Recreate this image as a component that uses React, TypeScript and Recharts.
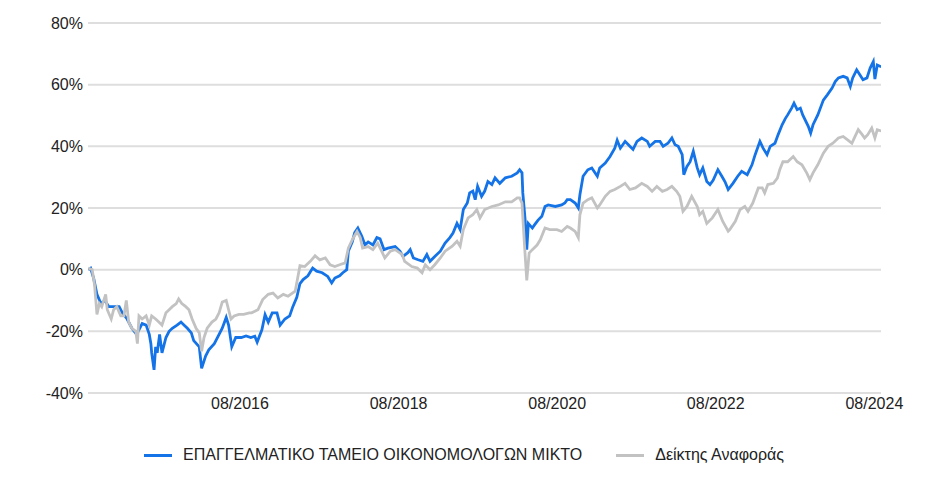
import { CartesianGrid, Line, LineChart, XAxis, YAxis } from "recharts";

// Colours and type.
const FUND_COLOR = "#1473e6";
const BENCH_COLOR = "#c2c2c2";
const GRID = "#dedede";
const TEXT = "#222222";
const FONT = "'Liberation Sans', Arial, sans-serif";

const FUND_NAME = "ΕΠΑΓΓΕΛΜΑΤΙΚΟ ΤΑΜΕΙΟ ΟΙΚΟΝΟΜΟΛΟΓΩΝ ΜΙΚΤΟ";
const BENCH_NAME = "Δείκτης Αναφοράς";

// Time as decimal year, cumulative return in %.
const fundTimes = [
  2014.67, 2014.7, 2014.74, 2014.78, 2014.83, 2014.88, 2014.93, 2014.99, 2015.06, 2015.1,
  2015.16, 2015.22, 2015.28, 2015.35, 2015.4, 2015.44, 2015.46, 2015.47, 2015.5, 2015.52,
  2015.54, 2015.57, 2015.6, 2015.65, 2015.69, 2015.73, 2015.79, 2015.84, 2015.88, 2015.92,
  2015.97, 2016.0, 2016.07, 2016.1, 2016.15, 2016.19, 2016.26, 2016.32, 2016.36, 2016.41,
  2016.44, 2016.48, 2016.53, 2016.6, 2016.66, 2016.72, 2016.77, 2016.8, 2016.86, 2016.9,
  2016.94, 2016.99, 2017.05, 2017.09, 2017.15, 2017.21, 2017.25, 2017.3, 2017.34, 2017.38,
  2017.44, 2017.5, 2017.55, 2017.62, 2017.69, 2017.74, 2017.78, 2017.84, 2017.88, 2017.93,
  2017.95, 2018.0, 2018.03, 2018.07, 2018.12, 2018.16, 2018.2, 2018.26, 2018.31, 2018.35,
  2018.4, 2018.45, 2018.54, 2018.6, 2018.64, 2018.7, 2018.73, 2018.77, 2018.83, 2018.89,
  2018.94, 2018.98, 2019.04, 2019.11, 2019.17, 2019.23, 2019.27, 2019.32, 2019.36, 2019.4,
  2019.45, 2019.48, 2019.52, 2019.55, 2019.58, 2019.63, 2019.67, 2019.71, 2019.76, 2019.8,
  2019.86, 2019.93, 2020.01, 2020.08, 2020.11, 2020.14, 2020.15, 2020.18, 2020.2, 2020.22,
  2020.27, 2020.3, 2020.34, 2020.39, 2020.43, 2020.47, 2020.56, 2020.64, 2020.68, 2020.71,
  2020.75, 2020.81, 2020.85, 2020.87, 2020.91, 2020.97, 2021.02, 2021.09, 2021.12, 2021.19,
  2021.25, 2021.31, 2021.34, 2021.38, 2021.44, 2021.5, 2021.54, 2021.59, 2021.65, 2021.72,
  2021.75, 2021.82, 2021.88, 2021.92, 2021.98, 2022.03, 2022.07, 2022.11, 2022.16, 2022.18,
  2022.22, 2022.26, 2022.3, 2022.35, 2022.38, 2022.42, 2022.47, 2022.51, 2022.55, 2022.61,
  2022.66, 2022.7, 2022.74, 2022.8, 2022.86, 2022.91, 2022.98, 2023.04, 2023.08, 2023.14,
  2023.18, 2023.23, 2023.27, 2023.33, 2023.37, 2023.42, 2023.46, 2023.49, 2023.54, 2023.57,
  2023.61, 2023.65, 2023.68, 2023.75, 2023.78, 2023.81, 2023.87, 2023.94, 2023.99, 2024.05,
  2024.09, 2024.13, 2024.19, 2024.24, 2024.28, 2024.31, 2024.36, 2024.4, 2024.44, 2024.49,
  2024.53, 2024.57, 2024.59, 2024.62, 2024.67,
];
const fundValues = [
  0, 0.5, -3, -8, -11, -10, -12, -12, -12, -14,
  -16, -19, -21, -17.5, -18, -21, -24, -27, -32.5, -25,
  -27, -21, -27, -22, -20, -19, -18, -17, -18, -19,
  -20.5, -23, -25, -32, -28, -26, -24, -21, -19, -15.5,
  -18, -25, -22, -22, -21.5, -22, -21.6, -23.5, -19.5, -14.6,
  -17, -14, -14, -18, -16, -15, -12, -9, -4.5, -3.2,
  -2, 0.5, -0.5, -1, -2.2, -4.3, -2.7, -2, -1, 0,
  6, 9, 12, 13.5, 10.8, 8, 9, 8, 10.4, 10,
  6.5, 7, 7.5, 6, 4.3, 5.5, 6.5, 3.8, 3.2, 2.7,
  4.9, 2.7, 4.3, 6, 8.6, 10.4, 11.9, 15, 13, 19.5,
  21.6, 24.9, 25.5, 22.7, 27, 23.8, 25.5, 28.6, 27.6, 29.8,
  28, 29.8, 30.3, 31.4, 32.4, 31.4, 24.9, 16, 6.5, 15,
  13.5, 14.6, 16, 17.3, 20.5, 21, 20.5, 21, 21.6, 22.7,
  22.7, 21.6, 20, 24.3, 30.3, 32.4, 33, 30.3, 33, 34.6,
  36.7, 39.4, 42, 39.4, 41.6, 40, 39, 41.6, 42.7, 41.6,
  40, 41.6, 41.6, 40, 41, 42.7, 40.5, 40, 37.3, 30.8,
  33.5, 35, 38.4, 33, 30.8, 33, 28.6, 27.6, 29, 32.4,
  30.3, 28.5, 26, 28, 30.3, 31.9, 30.8, 34, 37.3, 41.6,
  39.4, 37.3, 40, 41, 43.8, 47, 49, 50.2, 52.4, 54,
  51.9, 52.4, 50.2, 46.5, 44.3, 47, 50.2, 55, 56.7, 58.9,
  61, 62.2, 62.7, 62.2, 59.4, 62.2, 64.8, 63.2, 61.6, 62.2,
  65.4, 67.5, 61.8, 66.4, 65.8,
];

const benchTimes = [
  2014.67, 2014.72, 2014.75, 2014.78, 2014.81, 2014.84, 2014.89, 2014.91, 2014.96, 2014.99,
  2015.03, 2015.08, 2015.12, 2015.15, 2015.18, 2015.22, 2015.27, 2015.29, 2015.31, 2015.35,
  2015.4, 2015.44, 2015.47, 2015.52, 2015.56, 2015.6, 2015.65, 2015.69, 2015.73, 2015.78,
  2015.81, 2015.85, 2015.9, 2015.94, 2015.98, 2016.03, 2016.07, 2016.1, 2016.13, 2016.17,
  2016.23, 2016.28, 2016.32, 2016.36, 2016.41, 2016.44, 2016.47, 2016.51, 2016.57, 2016.63,
  2016.7, 2016.73, 2016.81, 2016.87, 2016.94, 2017.0, 2017.06, 2017.13, 2017.19, 2017.28,
  2017.34, 2017.4, 2017.47, 2017.53, 2017.59, 2017.66, 2017.72, 2017.78, 2017.84, 2017.91,
  2017.95, 2018.0, 2018.06, 2018.1, 2018.13, 2018.2, 2018.26, 2018.32, 2018.37, 2018.41,
  2018.48, 2018.54, 2018.63, 2018.66, 2018.75, 2018.82, 2018.88, 2018.92, 2018.98, 2019.04,
  2019.11, 2019.17, 2019.26, 2019.32, 2019.36, 2019.4, 2019.46, 2019.52, 2019.57, 2019.61,
  2019.67, 2019.76, 2019.84, 2019.93, 2020.01, 2020.08, 2020.11, 2020.14, 2020.17, 2020.2,
  2020.23, 2020.27, 2020.33, 2020.37, 2020.43, 2020.49, 2020.58, 2020.64, 2020.71, 2020.75,
  2020.81, 2020.85, 2020.87, 2020.91, 2020.97, 2021.02, 2021.09, 2021.12, 2021.19, 2021.25,
  2021.31, 2021.38, 2021.44, 2021.5, 2021.57, 2021.65, 2021.72, 2021.78, 2021.84, 2021.91,
  2021.97, 2022.03, 2022.09, 2022.13, 2022.17, 2022.22, 2022.28, 2022.35, 2022.38, 2022.42,
  2022.47, 2022.54, 2022.61, 2022.67, 2022.74, 2022.76, 2022.83, 2022.89, 2022.95, 2022.99,
  2023.05, 2023.12, 2023.17, 2023.2, 2023.24, 2023.31, 2023.36, 2023.39, 2023.43, 2023.49,
  2023.56, 2023.61, 2023.67, 2023.73, 2023.77, 2023.81, 2023.87, 2023.94, 2024.0, 2024.06,
  2024.13, 2024.19, 2024.25, 2024.3, 2024.34, 2024.38, 2024.43, 2024.46, 2024.5, 2024.55,
  2024.59, 2024.62, 2024.67,
];
const benchValues = [
  0.5, 0, -5, -14.5, -11, -12, -8, -13, -16, -13,
  -12, -15, -15, -10, -17, -19, -20, -24, -15, -16,
  -15, -18, -15, -16, -17, -18, -14, -13, -12, -11,
  -9.5, -11, -12, -13, -16, -19, -20.5, -26.5, -22, -19,
  -17, -16, -14, -10.5, -10, -13, -16, -15, -14.5, -14.5,
  -14, -14, -13, -9.7, -8, -7.6, -9.2, -8, -8.6, -7,
  1.3, 1, 2.7, 4.5, 3.2, 3.8, 1.6, 1, 1.6, 2.2,
  7, 9.7, 12.4, 10.4, 7, 7.5, 6.5, 8.6, 6, 3.8,
  6, 6.5, 4.9, 2.7, 1, 0.5, -1, 1.6, 0, 1.6,
  3.8, 6, 7.6, 9.2, 7.6, 13, 16.8, 17.8, 19.5, 16.8,
  19.5, 20.5, 21, 22, 22, 23.3, 23.3, 21.6, 8.6, -3.5,
  5.4, 6.5, 8, 9.7, 13.5, 13, 13, 12.4, 14, 13.5,
  12.4, 10.4, 17.8, 21.6, 22.7, 23.3, 20, 21, 23.8, 25.4,
  26, 27, 28, 26, 26.5, 28, 27, 25.4, 27, 25.4,
  26, 27, 25.4, 23.8, 18.9, 20.5, 23.8, 20.5, 17.8, 18.9,
  15, 16.8, 19.5, 15.7, 12.5, 13, 15.7, 19.5, 20.5, 18.9,
  21.6, 26.5, 26.5, 24.9, 27.6, 28, 29.7, 32.4, 35, 35,
  36.7, 35, 34, 31.4, 29.2, 31.4, 34, 37.8, 40, 41,
  42.7, 43.2, 42, 41, 43.2, 45.4, 43.8, 42.7, 43.8, 45.9,
  42.7, 45.4, 45,
];

const yTicks = [-40, -20, 0, 20, 40, 60, 80];
const xTickLabels = ["08/2016", "08/2018", "08/2020", "08/2022", "08/2024"];
const X_START = 2014.667; // 09/2014
const X_END = 2024.667; // 09/2024

// "MM/YYYY" -> decimal year at the start of that month
const toYear = (label: string) => {
  const [m, y] = label.split("/").map(Number);
  return y + (m - 1) / 12;
};
const xTicks = xTickLabels.map(toYear);
const tickLabel = (v: number) => xTickLabels[xTicks.findIndex((t) => Math.abs(t - v) < 1e-6)] ?? "";

const fundData = fundTimes.map((t, i) => ({ t, v: fundValues[i] }));
const benchData = benchTimes.map((t, i) => ({ t, v: benchValues[i] }));

function LegendItem({ color, label }: { color: string; label: string }) {
  return (
    <div style={{ display: "flex", alignItems: "center" }}>
      <div style={{ width: 28, height: 3, background: color, marginRight: 11 }} />
      <span>{label}</span>
    </div>
  );
}

export default function App() {
  const tick = { fill: TEXT, fontSize: 16, fontFamily: FONT };
  return (
    <div style={{ position: "relative", width: 929, height: 486, margin: -8, background: "#fff" }}>
      <div style={{ position: "absolute", left: 0, top: 0, width: 1, height: 486, background: "#e6e6e6" }} />
      <LineChart width={929} height={486} margin={{ top: 23, right: 48, bottom: 63, left: 0 }}>
        <CartesianGrid vertical={false} stroke={GRID} strokeWidth={2} />
        <XAxis
          type="number"
          dataKey="t"
          domain={[X_START, X_END]}
          allowDataOverflow
          ticks={xTicks}
          tickFormatter={tickLabel}
          axisLine={false}
          tickLine={false}
          tickSize={0}
          tickMargin={5}
          height={30}
          tick={tick}
        />
        <YAxis
          type="number"
          domain={[-40, 80]}
          ticks={yTicks}
          tickFormatter={(v) => `${v}%`}
          axisLine={false}
          tickLine={false}
          tickSize={0}
          tickMargin={5}
          width={88}
          tick={tick}
        />
        <Line
          data={fundData}
          dataKey="v"
          name={FUND_NAME}
          type="linear"
          stroke={FUND_COLOR}
          strokeWidth={2.8}
          dot={false}
          isAnimationActive={false}
        />
        <Line
          data={benchData}
          dataKey="v"
          name={BENCH_NAME}
          type="linear"
          stroke={BENCH_COLOR}
          strokeWidth={2.8}
          dot={false}
          isAnimationActive={false}
        />
      </LineChart>
      <div
        style={{
          position: "absolute",
          left: 144,
          top: 445,
          height: 20,
          display: "flex",
          alignItems: "center",
          gap: 34,
          fontFamily: FONT,
          fontSize: 16,
          color: TEXT,
          whiteSpace: "nowrap",
        }}
      >
        <LegendItem color={FUND_COLOR} label={FUND_NAME} />
        <LegendItem color={BENCH_COLOR} label={BENCH_NAME} />
      </div>
    </div>
  );
}
